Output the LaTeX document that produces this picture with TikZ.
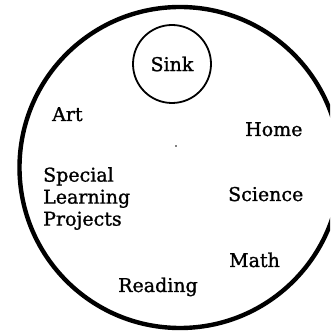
\documentclass[tikz,border=0pt]{standalone}
\usepackage{fontspec}
\setmainfont{DejaVu Serif}[FakeBold=1.2]
\usetikzlibrary{positioning}

\begin{document}
\begin{tikzpicture}[
    x=1pt, y=1pt,
    every node/.style={font=\fontsize{19}{22}\selectfont},
    area/.style={anchor=base west, inner sep=0pt},
    block/.style={anchor=north west, inner sep=0pt, align=left},
    sinkc/.style={draw, circle, line width=1.8pt, minimum size=78pt, inner sep=0pt},
]
\useasboundingbox (0,0) rectangle (330,332);
\clip (0,0) rectangle (330,332);

% Room outline
\draw[line width=4.4pt] (180,164.5) circle (160.5pt);
\fill (176,186) circle (0.9pt);

% Sink
\node[sinkc] (sink) at (172,268) {Sink};

% Areas
\node[area] (art) at (52,211) {Art};
\node[area] (home) at (245,196) {Home};
\node[block] (slp) at (43,165)
    {Special\\Learning\\Projects};
\node[area] (sci) at (228,131) {Science};
\node[area] (math) at (229,65) {Math};
\node[area] (read) at (118,40) {Reading};
\end{tikzpicture}
\end{document}
